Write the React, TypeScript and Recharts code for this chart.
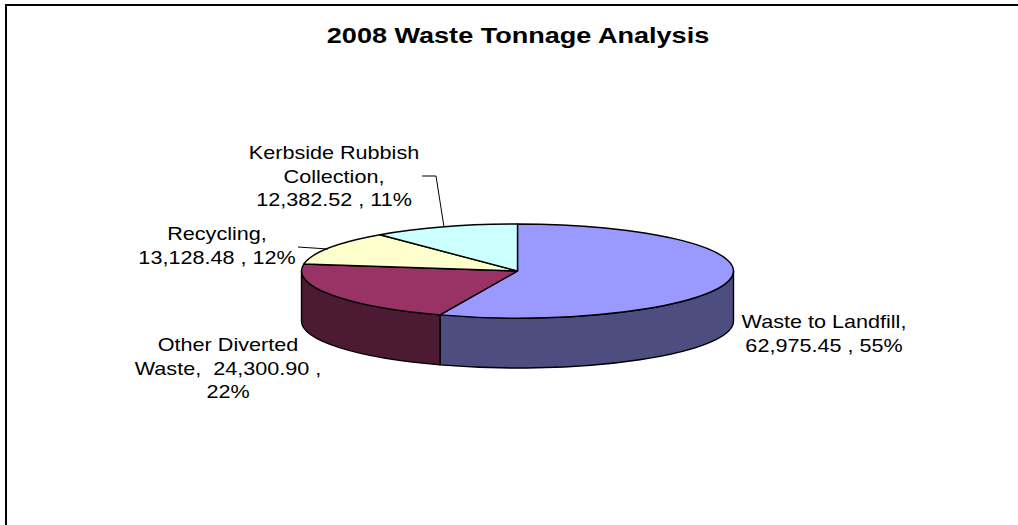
import { Pie, PieChart } from "recharts";

const categories = ["Waste to Landfill", "Other Diverted Waste", "Recycling", "Kerbside Rubbish Collection"];
const tonnage = [62975.45, 24300.9, 13128.48, 12382.52];
const topColors = ["#9999FF", "#993366", "#FFFFCC", "#CCFFFF"];
const sideColors = ["#4D4D80", "#4D1A33", "#808066", "#668080"];
const labelLines = [
    ["Waste to Landfill,", "62,975.45 , 55%"],
    ["Other Diverted", "Waste,  24,300.90 ,", "22%"],
    ["Recycling,", "13,128.48 , 12%"],
    ["Kerbside Rubbish", "Collection,", "12,382.52 , 11%"],
];
const title = "2008 Waste Tonnage Analysis";

// where each label block sits: centre x, first baseline
const labelAnchors = [
    { x: 824, y: 328 },
    { x: 228, y: 351 },
    { x: 217, y: 240 },
    { x: 334, y: 159 },
];
const leaders: Record<number, string> = {
    2: "298,247 328,249",
    3: "422,176 436,176 444,227",
};

const CX = 517.5;
const CY = 271;
const RX = 216;
const RY = 47;
const DEPTH = 50;
const LINE_GAP = 23.7;
const STRETCH = 1.2;

const topData = categories.map((name, i) => ({ name, value: tonnage[i], fill: topColors[i] }));
const sideData = categories.map((name, i) => ({ name, value: tonnage[i], fill: sideColors[i] }));

const point = (angle: number, y: number) => {
    const rad = (angle * Math.PI) / 180;
    return [CX + RX * Math.cos(rad), y - RY * Math.sin(rad)];
};

// pie lies flat, so the slice is squashed to an ellipse
const TopSlice = (props: any) => {
    const { startAngle, endAngle, fill } = props;
    const [x1, y1] = point(startAngle, CY);
    const [x2, y2] = point(endAngle, CY);
    const large = startAngle - endAngle > 180 ? 1 : 0;
    const d = `M${CX},${CY} L${x1},${y1} A${RX},${RY} 0 ${large} 1 ${x2},${y2} Z`;
    return <path d={d} fill={fill} stroke="#000" strokeWidth={1.4} strokeLinejoin="round" />;
};

// only the front half of the rim can be seen (angles 0 to -180)
const SideWall = (props: any) => {
    const { startAngle, endAngle, fill } = props;
    const from = Math.min(startAngle, 0);
    const to = Math.max(endAngle, -180);
    if (from <= to) return null;
    const [x1, y1] = point(from, CY);
    const [x2, y2] = point(to, CY);
    const [x3, y3] = point(to, CY + DEPTH);
    const [x4, y4] = point(from, CY + DEPTH);
    const d = `M${x1},${y1} A${RX},${RY} 0 0 1 ${x2},${y2} L${x3},${y3} A${RX},${RY} 0 0 0 ${x4},${y4} Z`;
    return <path d={d} fill={fill} stroke="#000" strokeWidth={1.4} strokeLinejoin="round" />;
};

const SliceLabel = ({ index }: any) => {
    const anchor = labelAnchors[index];
    return (
        <g>
            {leaders[index] && <polyline points={leaders[index]} fill="none" stroke="#000" strokeWidth={1} />}
            {labelLines[index].map((line, i) => (
                <text
                    key={line}
                    transform={`translate(${anchor.x},${anchor.y + i * LINE_GAP}) scale(${STRETCH},1)`}
                    textAnchor="middle"
                    fontFamily="'Liberation Sans', Arial, sans-serif"
                    fontSize={18}
                    fill="#000"
                    xmlSpace="preserve"
                >
                    {line}
                </text>
            ))}
        </g>
    );
};

export default function App() {
    return (
        <div style={{ position: "absolute", left: 0, top: 0, width: 1018, height: 525, background: "#fff" }}>
            <PieChart width={1018} height={525} margin={{ top: 0, right: 0, bottom: 0, left: 0 }}>
                <line x1={5} y1={5} x2={1018} y2={5} stroke="#000" strokeWidth={2} />
                <line x1={6} y1={5} x2={6} y2={525} stroke="#000" strokeWidth={2} />
                <text
                    transform={`translate(518,43) scale(1.23,1)`}
                    textAnchor="middle"
                    fontFamily="'Liberation Sans', Arial, sans-serif"
                    fontWeight="bold"
                    fontSize={22}
                    fill="#000"
                >
                    {title}
                </text>
                <Pie
                    data={sideData}
                    dataKey="value"
                    cx={CX}
                    cy={CY}
                    outerRadius={RX}
                    startAngle={90}
                    endAngle={-270}
                    paddingAngle={0}
                    shape={SideWall}
                    isAnimationActive={false}
                />
                <Pie
                    data={topData}
                    dataKey="value"
                    cx={CX}
                    cy={CY}
                    outerRadius={RX}
                    startAngle={90}
                    endAngle={-270}
                    paddingAngle={0}
                    shape={TopSlice}
                    label={SliceLabel}
                    labelLine={false}
                    isAnimationActive={false}
                />
            </PieChart>
        </div>
    );
}
